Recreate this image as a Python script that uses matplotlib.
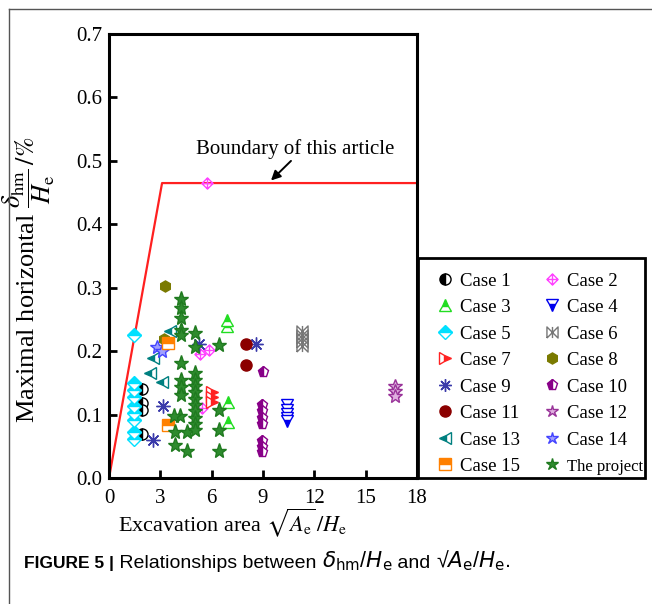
import numpy as np
import matplotlib
matplotlib.use("Agg")
import matplotlib.pyplot as plt
from matplotlib.path import Path
from matplotlib.lines import Line2D
from matplotlib.patches import Rectangle

plt.rcParams['font.family'] = ['Liberation Serif', 'DejaVu Serif']
plt.rcParams['mathtext.fontset'] = 'stix'

# ---- data ----
case1_x = [1.9, 1.9, 1.9, 1.9]
case1_y = [0.140, 0.118, 0.108, 0.070]
case2_x = [5.75, 5.3, 5.85, 5.45]
case2_y = [0.465, 0.195, 0.202, 0.110]
case3_x = [6.9, 6.9, 6.95, 6.95]
case3_y = [0.249, 0.240, 0.120, 0.089]
case4_x = [10.4, 10.4, 10.4, 10.4, 10.4]
case4_y = [0.115, 0.108, 0.101, 0.095, 0.090]
case5_x = [1.45, 1.45, 1.45, 1.45, 1.45, 1.45, 1.45, 1.45, 1.45]
case5_y = [0.225, 0.150, 0.139, 0.127, 0.114, 0.102, 0.092, 0.073, 0.062]
case6_x = [11.3, 11.3, 11.3, 11.3, 11.3]
case6_y = [0.232, 0.226, 0.220, 0.214, 0.208]
case7_x = [6.0, 6.0, 6.0]
case7_y = [0.136, 0.128, 0.120]
case8_x = [3.27, 3.23]
case8_y = [0.302, 0.219]
case9_x = [3.13, 2.59, 5.28, 8.6]
case9_y = [0.114, 0.060, 0.211, 0.211]
case10_x = [9.0, 8.95, 8.95, 8.95, 8.95, 8.95, 8.95, 8.95]
case10_y = [0.167, 0.115, 0.105, 0.095, 0.085, 0.058, 0.049, 0.041]
case11_x = [8.0, 8.0]
case11_y = [0.212, 0.178]
case12_x = [16.7, 16.7, 16.7]
case12_y = [0.145, 0.137, 0.130]
case13_x = [3.57, 2.59, 2.40, 3.08]
case13_y = [0.231, 0.189, 0.165, 0.152]
case14_x = [2.79, 3.08]
case14_y = [0.207, 0.201]
case15_x = [3.47, 3.47]
case15_y = [0.213, 0.084]
project_x = [4.2, 4.2, 4.2, 4.2, 4.2, 4.2, 4.2, 4.2, 4.2, 4.15, 3.8,
             3.85, 3.85, 4.55, 4.55,
             5.05, 5.05, 5.05, 5.05, 5.05, 5.05, 5.05, 5.05, 5.05, 5.05, 5.05, 5.05,
             6.4, 6.4, 6.4, 6.4]
project_y = [0.283, 0.268, 0.252, 0.233, 0.226, 0.181, 0.155, 0.144, 0.131, 0.097, 0.097,
             0.073, 0.052, 0.073, 0.042,
             0.228, 0.207, 0.165, 0.155, 0.145, 0.135, 0.125, 0.115, 0.105, 0.095, 0.085, 0.075,
             0.210, 0.107, 0.076, 0.042]

boundary_x = [0, 3.1, 18]
boundary_y = [0, 0.465, 0.465]

# custom marker shapes
diamond_cross = Path([(0, 1), (1, 0), (0, -1), (-1, 0), (0, 1), (0, 1), (0, -1), (-1, 0), (1, 0)],
                     [Path.MOVETO, Path.LINETO, Path.LINETO, Path.LINETO, Path.CLOSEPOLY,
                      Path.MOVETO, Path.LINETO, Path.MOVETO, Path.LINETO])
bowtie = Path([(-1, -1), (-1, 1), (1, -1), (1, 1), (-1, -1), (0, 1), (0, -1)],
              [Path.MOVETO, Path.LINETO, Path.LINETO, Path.LINETO, Path.LINETO,
               Path.MOVETO, Path.LINETO])

series = [
    ("Case 1", case1_x, case1_y, dict(marker='o', color='black', fillstyle='left')),
    ("Case 2", case2_x, case2_y, dict(marker=diamond_cross, color='#ff44ff', markerfacecolor='none')),
    ("Case 3", case3_x, case3_y, dict(marker='^', color='#22dd22', fillstyle='top')),
    ("Case 4", case4_x, case4_y, dict(marker='v', color='#0000ee', fillstyle='bottom')),
    ("Case 5", case5_x, case5_y, dict(marker='D', color='#00e0ff', fillstyle='top', ms=7)),
    ("Case 6", case6_x, case6_y, dict(marker=bowtie, color='#777777', markerfacecolor='none')),
    ("Case 7", case7_x, case7_y, dict(marker='>', color='#ff2222', fillstyle='right')),
    ("Case 8", case8_x, case8_y, dict(marker='h', color='#7a7a00')),
    ("Case 9", case9_x, case9_y, dict(marker=(8, 2, 0), color='#3a3aaa', ms=10)),
    ("Case 10", case10_x, case10_y, dict(marker='p', color='#880088', fillstyle='left')),
    ("Case 11", case11_x, case11_y, dict(marker='o', color='#8b0000')),
    ("Case 12", case12_x, case12_y, dict(marker='*', color='#993399', markerfacecolor='#e0b0e0', ms=10)),
    ("Case 13", case13_x, case13_y, dict(marker='<', color='#008080', fillstyle='left')),
    ("Case 14", case14_x, case14_y, dict(marker='*', color='#4444ff', markerfacecolor='#a0a0ff', ms=10)),
    ("Case 15", case15_x, case15_y, dict(marker='s', color='#ff8000', fillstyle='top')),
    ("The project", project_x, project_y, dict(marker='*', color='#1f7a1f', markerfacecolor='#2e8b2e', ms=11)),
]

fig = plt.figure(figsize=(6.52, 6.04), dpi=100)
ax = fig.add_axes([0.1672, 0.2086, 0.4724, 0.7351])

ax.plot(boundary_x, boundary_y, color='#ff2020', lw=1.6, zorder=2)

handles = []
for label, xs, ys, st in series:
    st = dict(st)
    ms = st.pop('ms', 8)
    kw = dict(linestyle='none', ms=ms, markeredgewidth=1.0, markerfacecoloralt='white')
    kw.update(st)
    ax.plot(xs, ys, zorder=3, **kw)
    handles.append(Line2D([], [], label=label, **dict(kw, ms=min(ms, 9))))

# legend is filled row by row in the reference: odd cases left, even cases right
handles = handles[0::2] + handles[1::2]

ax.text(10.9, 0.519, "Boundary of this article", ha='center', va='center', fontsize=15)
ax.annotate('', xy=(9.35, 0.466), xytext=(10.75, 0.503),
            arrowprops=dict(arrowstyle='-|>', color='black', lw=1.4, mutation_scale=14))

ax.set_xlim(0, 18)
ax.set_ylim(0, 0.7)
ax.set_xticks(np.arange(0, 19, 3))
ax.set_yticks(np.arange(0, 0.71, 0.1))
ax.set_yticklabels([f"{v:.1f}" for v in np.arange(0, 0.71, 0.1)])
ax.tick_params(direction='in', length=6, width=2, labelsize=15)
ax.tick_params(axis='x', pad=8)
ax.tick_params(axis='y', pad=5)
for s in ax.spines.values():
    s.set_linewidth(2.2)

ax.set_xlabel(r"Excavation area $\sqrt{A_{\mathrm{e}}}\,/H_{\mathrm{e}}$", fontsize=16)
ax.xaxis.set_label_coords(0.40, -0.064)
ax.set_ylabel(r"Maximal horizontal $\dfrac{\delta_{\mathrm{hm}}}{H_{\mathrm{e}}}\,/\%$", fontsize=19)
ax.yaxis.set_label_coords(-0.17, 0.447)

leg = fig.legend(handles=handles, ncol=2, loc='upper left',
                 bbox_to_anchor=(0.6696, 0.549), frameon=False,
                 fontsize=13.5, handlelength=0.9, handletextpad=0.35, labelspacing=0.5,
                 borderpad=0, columnspacing=1.26, borderaxespad=0)
leg.get_texts()[-1].set_fontsize(12)
fig.add_artist(Rectangle((0.6411, 0.2086), 0.3482, 0.3642, transform=fig.transFigure,
                         fill=False, edgecolor='black', lw=2.0))

# caption and outer frame
fig.add_artist(Line2D([0.014, 1.0], [0.985, 0.985], color='#555555', lw=1.0))
fig.add_artist(Line2D([0.014, 0.014], [0.0, 0.985], color='#555555', lw=1.0))

caption_parts = [
    ("FIGURE 5 |", 12.5, 'bold'),
    (" Relationships between ", 14, 'normal'),
    ("$\\delta_{\\mathrm{hm}}$/$H_{\\mathrm{e}}$", 15.5, 'normal'),
    (" and ", 14, 'normal'),
    ("\u221a$A_{\\mathrm{e}}$/$H_{\\mathrm{e}}$.", 15.5, 'normal'),
]
renderer = fig.canvas.get_renderer()
x_pos = 0.037
for txt, size, weight in caption_parts:
    t = fig.text(x_pos, 0.06, txt, family=['Liberation Sans', 'DejaVu Sans'], fontsize=size,
                 fontweight=weight, va='baseline', math_fontfamily='dejavusans')
    bb = t.get_window_extent(renderer=renderer)
    x_pos = bb.x1 / fig.bbox.width

fig.savefig("out.png", dpi=100)
